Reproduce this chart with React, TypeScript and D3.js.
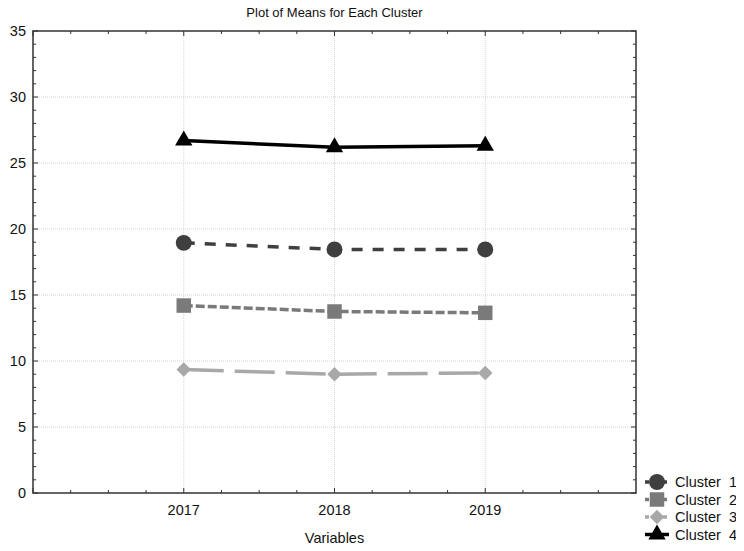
import React, { useEffect, useRef } from 'react';
import * as d3 from 'd3';

const years = ['2017', '2018', '2019'];
const clusterNames = ['Cluster  1', 'Cluster  2', 'Cluster  3', 'Cluster  4'];
const cluster1 = [18.95, 18.45, 18.45];
const cluster2 = [14.2, 13.75, 13.65];
const cluster3 = [9.35, 9.0, 9.1];
const cluster4 = [26.7, 26.2, 26.3];
const yTicks = [0, 5, 10, 15, 20, 25, 30, 35];

const seriesStyle = [
  { color: '#3f3f3f', dash: '11,10', width: 3.5, symbol: d3.symbolCircle, size: 200, rot: 0 },
  { color: '#7a7a7a', dash: '9,3', width: 3.5, symbol: d3.symbolSquare, size: 210, rot: 0 },
  { color: '#a8a8a8', dash: '40,11', width: 3.5, symbol: d3.symbolSquare, size: 105, rot: 45 },
  { color: '#000000', dash: '', width: 3.5, symbol: d3.symbolTriangle, size: 130, rot: 0 },
];

function App() {
  const ref = useRef<SVGSVGElement>(null);

  useEffect(() => {
    const svg = d3.select(ref.current);
    svg.selectAll('*').remove();
    const width = 744, height = 551;
    const margin = { top: 31, right: 108, bottom: 58, left: 33 };
    const font = 'Liberation Sans, Arial, sans-serif';

    const x = d3.scaleLinear().domain([0, years.length + 1]).range([margin.left, width - margin.right]);
    const y = d3.scaleLinear().domain([0, 35]).range([height - margin.bottom, margin.top]);
    const x0 = x.range()[0], x1 = x.range()[1], y0 = y.range()[0], y1 = y.range()[1];

    svg.append('rect').attr('width', width).attr('height', height).attr('fill', '#fff');

    // grid
    const grid = svg.append('g').attr('stroke', '#d4d4d4').attr('stroke-width', 1).attr('stroke-dasharray', '1,1');
    yTicks.slice(1, -1).forEach(t => {
      grid.append('line').attr('x1', x0).attr('x2', x1).attr('y1', y(t)).attr('y2', y(t));
    });
    years.forEach((_, i) => {
      grid.append('line').attr('x1', x(i + 1)).attr('x2', x(i + 1)).attr('y1', y0).attr('y2', y1);
    });

    // minor ticks
    const ticks = svg.append('g').attr('stroke', '#333').attr('stroke-width', 1);
    d3.range(0, 36, 1).forEach(v => {
      const major = v % 5 === 0;
      const l = major ? 5 : 3;
      ticks.append('line').attr('x1', x0).attr('x2', x0 + l).attr('y1', y(v)).attr('y2', y(v));
      ticks.append('line').attr('x1', x1).attr('x2', x1 - l).attr('y1', y(v)).attr('y2', y(v));
    });
    d3.range(0, 16, 1).forEach(k => {
      const v = k / 4;
      const major = k % 4 === 0;
      const l = major ? 5 : 3;
      ticks.append('line').attr('x1', x(v)).attr('x2', x(v)).attr('y1', y0).attr('y2', y0 - l);
      ticks.append('line').attr('x1', x(v)).attr('x2', x(v)).attr('y1', y1).attr('y2', y1 + l);
    });

    // frame
    svg.append('rect').attr('x', x0).attr('y', y1).attr('width', x1 - x0).attr('height', y0 - y1)
      .attr('fill', 'none').attr('stroke', '#333').attr('stroke-width', 1.5);

    // y labels
    svg.append('g').selectAll('text').data(yTicks).join('text')
      .attr('x', x0 - 7).attr('y', d => y(d)).attr('dy', '0.36em')
      .attr('text-anchor', 'end').attr('font-family', font).attr('font-size', 14.5).attr('fill', '#111')
      .text(d => d);

    // x labels
    svg.append('g').selectAll('text').data(years).join('text')
      .attr('x', (_, i) => x(i + 1)).attr('y', y0 + 22)
      .attr('text-anchor', 'middle').attr('font-family', font).attr('font-size', 14.5).attr('fill', '#111')
      .text(d => d);

    svg.append('text').attr('x', (x0 + x1) / 2).attr('y', 543).attr('text-anchor', 'middle')
      .attr('font-family', font).attr('font-size', 14.5).attr('fill', '#111').text('Variables');
    svg.append('text').attr('x', (x0 + x1) / 2).attr('y', 17).attr('text-anchor', 'middle')
      .attr('font-family', font).attr('font-size', 13).attr('fill', '#111').text('Plot of Means for Each Cluster');

    const allSeries = [cluster1, cluster2, cluster3, cluster4];
    const line = d3.line<number>().x((_, i) => x(i + 1)).y(d => y(d));

    allSeries.forEach((vals, si) => {
      const s = seriesStyle[si];
      svg.append('path').attr('d', line(vals)).attr('fill', 'none')
        .attr('stroke', s.color).attr('stroke-width', s.width).attr('stroke-dasharray', s.dash);
      svg.append('g').selectAll('path').data(vals).join('path')
        .attr('d', d3.symbol().type(s.symbol).size(s.size)())
        .attr('transform', (d, i) => `translate(${x(i + 1)},${y(d)}) rotate(${s.rot})`)
        .attr('fill', s.color);
    });

    // legend
    const leg = svg.append('g');
    clusterNames.forEach((name, i) => {
      const s = seriesStyle[i];
      const cy = 482 + i * 17.5;
      leg.append('line').attr('x1', 645).attr('x2', 669).attr('y1', cy).attr('y2', cy)
        .attr('stroke', s.color).attr('stroke-width', 3.5).attr('stroke-dasharray', i === 3 ? '' : '4,2');
      leg.append('path').attr('d', d3.symbol().type(s.symbol).size(s.size)())
        .attr('transform', `translate(657,${cy}) rotate(${s.rot})`).attr('fill', s.color);
      leg.append('text').attr('x', 675).attr('y', cy).attr('dy', '0.36em')
        .attr('font-family', font).attr('font-size', 14.5).attr('fill', '#111')
        .attr('xml:space', 'preserve').style('white-space', 'pre').text(name);
    });
  }, []);

  return (
    <div style={{ margin: -8 }}>
      <svg ref={ref} width={744} height={551} style={{ display: 'block' }} />
    </div>
  );
}

export default App;
